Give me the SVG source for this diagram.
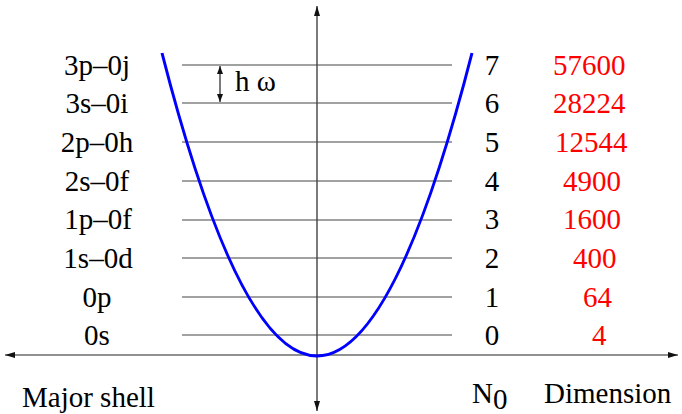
<svg xmlns="http://www.w3.org/2000/svg" width="682" height="414" viewBox="0 0 682 414">
<defs>
<marker id="ah" markerWidth="10" markerHeight="6" refX="10" refY="3" orient="auto-start-reverse" markerUnits="userSpaceOnUse">
<path d="M0,0 L10,3 L0,6 Z" fill="#111"/>
</marker>
<marker id="hh" markerWidth="8" markerHeight="6" refX="8" refY="3" orient="auto-start-reverse" markerUnits="userSpaceOnUse">
<path d="M0,0 L8,3 L0,6 Z" fill="#111"/>
</marker>
</defs>
<g id="connectors" fill="none">
<g stroke="#222" stroke-width="1.2">
<line id="x-axis" x1="5" y1="355" x2="678" y2="355" marker-start="url(#ah)" marker-end="url(#ah)"/>
<line id="y-axis" x1="317" y1="411" x2="317" y2="6" marker-start="url(#ah)" marker-end="url(#ah)"/>
<line id="hw-arrow" x1="220" y1="66" x2="220" y2="102" marker-start="url(#hh)" marker-end="url(#hh)"/>
</g>
<g stroke="#444" stroke-width="1.2">
<line x1="182" y1="65" x2="452" y2="65"/>
<line x1="182" y1="103" x2="452" y2="103"/>
<line x1="182" y1="142" x2="452" y2="142"/>
<line x1="182" y1="181" x2="452" y2="181"/>
<line x1="182" y1="220" x2="452" y2="220"/>
<line x1="182" y1="258" x2="452" y2="258"/>
<line x1="182" y1="297" x2="452" y2="297"/>
<line x1="182" y1="335" x2="452" y2="335"/>
</g>
</g>
<g id="potential">
<path d="M162,53 Q317,659 472,53" fill="none" stroke="#0000ff" stroke-width="3"/>
</g>
<g id="hw-label" font-size="29" fill="#000"><text font-family="Liberation Serif" x="235" y="91">h &#969;</text></g>
<g id="shells" font-size="29" fill="#000" text-anchor="middle">
<text font-family="Liberation Serif" x="97" y="75">3p&#8211;0j</text>
<text font-family="Liberation Serif" x="97" y="113">3s&#8211;0i</text>
<text font-family="Liberation Serif" x="97" y="152">2p&#8211;0h</text>
<text font-family="Liberation Serif" x="97" y="191">2s&#8211;0f</text>
<text font-family="Liberation Serif" x="98" y="229">1p&#8211;0f</text>
<text font-family="Liberation Serif" x="98" y="268">1s&#8211;0d</text>
<text font-family="Liberation Serif" x="97" y="307">0p</text>
<text font-family="Liberation Serif" x="97" y="345">0s</text>
</g>
<g id="N0-values" font-size="29" fill="#000" text-anchor="middle">
<text font-family="Liberation Serif" x="492" y="75">7</text>
<text font-family="Liberation Serif" x="492" y="113">6</text>
<text font-family="Liberation Serif" x="492" y="152">5</text>
<text font-family="Liberation Serif" x="492" y="191">4</text>
<text font-family="Liberation Serif" x="492" y="229">3</text>
<text font-family="Liberation Serif" x="492" y="268">2</text>
<text font-family="Liberation Serif" x="492" y="307">1</text>
<text font-family="Liberation Serif" x="492" y="345">0</text>
</g>
<g id="dimensions" font-size="29" fill="#ff0000">
<text font-family="Liberation Serif" x="553" y="75">57600</text>
<text font-family="Liberation Serif" x="553" y="113">28224</text>
<text font-family="Liberation Serif" x="555" y="152">12544</text>
<text font-family="Liberation Serif" x="563" y="191">4900</text>
<text font-family="Liberation Serif" x="563" y="229">1600</text>
<text font-family="Liberation Serif" x="573" y="268">400</text>
<text font-family="Liberation Serif" x="583" y="307">64</text>
<text font-family="Liberation Serif" x="592" y="345">4</text>
</g>
<g id="titles" font-size="29" fill="#000">
<text font-family="Liberation Serif" x="22" y="407">Major shell</text>
<text font-family="Liberation Serif" x="472" y="403">N</text>
<text font-family="Liberation Serif" x="493" y="409">0</text>
<text font-family="Liberation Serif" x="544" y="403">Dimension</text>
</g>
</svg>
